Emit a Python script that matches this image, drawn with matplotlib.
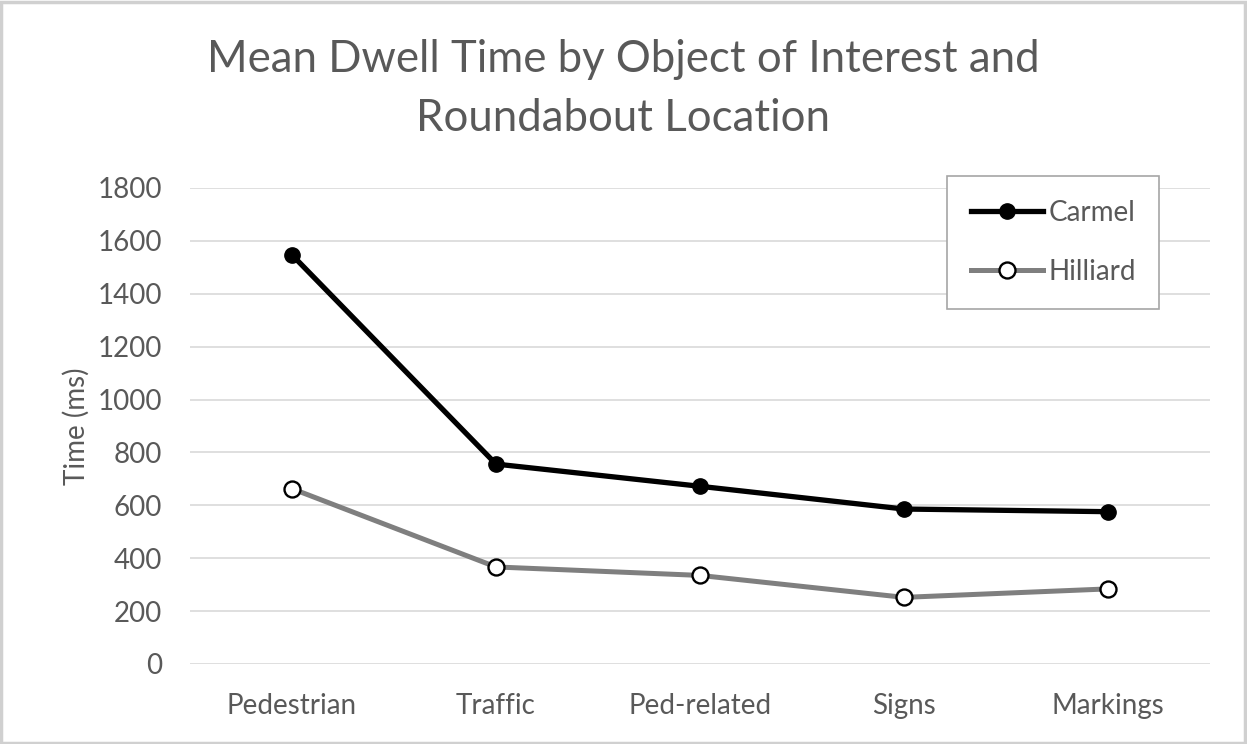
import matplotlib
matplotlib.use("Agg")
import matplotlib.pyplot as plt
from matplotlib.patches import Rectangle

# data
categories = ["Pedestrian", "Traffic", "Ped-related", "Signs", "Markings"]
carmel = [1547, 756, 672, 586, 576]
hilliard = [663, 367, 335, 252, 284]
y_ticks = [0, 200, 400, 600, 800, 1000, 1200, 1400, 1600, 1800]

TEXT = "#595959"
GRID = "#d9d9d9"

plt.rcParams["font.family"] = ["Lato", "DejaVu Sans"]

fig = plt.figure(figsize=(12.47, 7.44), dpi=100)
ax = fig.add_axes([190 / 1247, 1 - 664 / 744, 1020 / 1247, 476 / 744])

x = list(range(len(categories)))
ax.plot(x, carmel, color="black", lw=3.8, marker="o", ms=11,
        mfc="black", mec="black", label="Carmel", zorder=3)
ax.plot(x, hilliard, color="#7f7f7f", lw=3.6, marker="o", ms=11.5,
        mfc="white", mec="black", mew=1.7, label="Hilliard", zorder=3)

ax.set_xlim(-0.5, len(categories) - 0.5)
ax.set_ylim(0, 1800)
ax.set_yticks(y_ticks)
ax.set_xticks(x)
ax.set_xticklabels(categories)
ax.tick_params(axis="both", length=0, labelsize=20, colors=TEXT)
ax.tick_params(axis="y", pad=20)
ax.tick_params(axis="x", pad=21)
ax.yaxis.grid(True, color=GRID, lw=1.2)
ax.set_axisbelow(True)
for s in ax.spines.values():
    s.set_visible(False)

ax.set_ylabel("Time (ms)", fontsize=20, color=TEXT, labelpad=6)

fig.text(0.5, 1 - 89 / 744, "Mean Dwell Time by Object of Interest and\nRoundabout Location",
         ha="center", va="center", fontsize=31.5, color=TEXT, linespacing=1.52)

leg = ax.legend(loc="upper left", bbox_to_anchor=(947 / 1247, 1 - 176 / 744),
                bbox_transform=fig.transFigure, borderaxespad=0, fontsize=20,
                handlelength=2.6, handletextpad=0.2, labelspacing=1.2,
                borderpad=0.85, fancybox=False, edgecolor="#a6a6a6", framealpha=1)
leg.get_frame().set_linewidth(1.2)
for t in leg.get_texts():
    t.set_color(TEXT)

# light border around the whole chart area
fig.patches.append(Rectangle((0.001, 0.002), 0.997, 0.995, transform=fig.transFigure,
                             fill=False, edgecolor="#d0d0d0", lw=2.5))

fig.savefig("out.png", dpi=100, facecolor="white")
